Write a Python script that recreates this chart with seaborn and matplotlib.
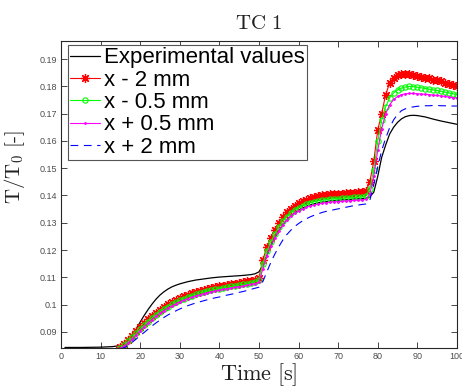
import numpy as np
import pandas as pd
import matplotlib
matplotlib.use("Agg")
import matplotlib.pyplot as plt
import seaborn as sns

# ---- data ----
t_model = list(range(15, 101))

red_xm2 = [0.0843, 0.0855, 0.0870, 0.0886, 0.0902, 0.0917, 0.0932, 0.0946, 0.0959, 0.0971,
           0.0982, 0.0992, 0.1001, 0.1009, 0.1017, 0.1024, 0.1030, 0.1036, 0.1041, 0.1046,
           0.1050, 0.1054, 0.1058, 0.1061, 0.1064, 0.1067, 0.1070, 0.1072, 0.1075, 0.1077,
           0.1080, 0.1082, 0.1085, 0.1088, 0.1091, 0.1098, 0.1165, 0.1210, 0.1244, 0.1273,
           0.1298, 0.1320, 0.1338, 0.1352, 0.1363, 0.1372, 0.1379, 0.1385, 0.1390, 0.1394,
           0.1397, 0.1400, 0.1402, 0.1404, 0.1405, 0.1406, 0.1407, 0.1408, 0.1409, 0.1410,
           0.1411, 0.1413, 0.1416, 0.1450, 0.1525, 0.1640, 0.1700, 0.1770, 0.1812, 0.1832,
           0.1842, 0.1846, 0.1847, 0.1845, 0.1842, 0.1839, 0.1836, 0.1832, 0.1829, 0.1825,
           0.1822, 0.1818, 0.1814, 0.1810, 0.1806, 0.1802]

green_xm05 = [0.0842, 0.0851, 0.0865, 0.0880, 0.0895, 0.0910, 0.0924, 0.0938, 0.0951, 0.0963,
              0.0974, 0.0984, 0.0993, 0.1001, 0.1009, 0.1016, 0.1022, 0.1028, 0.1033, 0.1038,
              0.1042, 0.1046, 0.1050, 0.1053, 0.1056, 0.1059, 0.1062, 0.1064, 0.1067, 0.1069,
              0.1072, 0.1074, 0.1077, 0.1080, 0.1083, 0.1090, 0.1150, 0.1196, 0.1230, 0.1259,
              0.1284, 0.1305, 0.1322, 0.1336, 0.1347, 0.1356, 0.1363, 0.1369, 0.1374, 0.1378,
              0.1381, 0.1383, 0.1385, 0.1387, 0.1388, 0.1389, 0.1390, 0.1391, 0.1392, 0.1393,
              0.1394, 0.1395, 0.1397, 0.1425, 0.1495, 0.1600, 0.1675, 0.1725, 0.1758, 0.1776,
              0.1787, 0.1794, 0.1798, 0.1800, 0.1799, 0.1797, 0.1795, 0.1792, 0.1790, 0.1787,
              0.1785, 0.1782, 0.1779, 0.1776, 0.1773, 0.1770]

magenta_xp05 = [0.0841, 0.0848, 0.0860, 0.0874, 0.0889, 0.0904, 0.0918, 0.0932, 0.0945, 0.0957,
                0.0968, 0.0978, 0.0987, 0.0995, 0.1003, 0.1010, 0.1016, 0.1022, 0.1027, 0.1032,
                0.1036, 0.1040, 0.1044, 0.1047, 0.1050, 0.1053, 0.1056, 0.1058, 0.1061, 0.1063,
                0.1066, 0.1068, 0.1071, 0.1074, 0.1077, 0.1082, 0.1132, 0.1180, 0.1215, 0.1245,
                0.1270, 0.1292, 0.1310, 0.1324, 0.1335, 0.1344, 0.1351, 0.1357, 0.1362, 0.1366,
                0.1369, 0.1372, 0.1374, 0.1376, 0.1377, 0.1378, 0.1379, 0.1380, 0.1381, 0.1382,
                0.1383, 0.1384, 0.1386, 0.1405, 0.1470, 0.1565, 0.1645, 0.1700, 0.1732, 0.1752,
                0.1763, 0.1770, 0.1773, 0.1774, 0.1774, 0.1773, 0.1772, 0.1771, 0.1770, 0.1768,
                0.1767, 0.1765, 0.1763, 0.1761, 0.1759, 0.1757]

blue_xp2 = [0.0838, 0.0842, 0.0851, 0.0862, 0.0874, 0.0886, 0.0898, 0.0910, 0.0922, 0.0933,
            0.0943, 0.0953, 0.0962, 0.0970, 0.0977, 0.0984, 0.0990, 0.0996, 0.1001, 0.1006,
            0.1010, 0.1014, 0.1018, 0.1022, 0.1025, 0.1028, 0.1032, 0.1035, 0.1038, 0.1041,
            0.1045, 0.1048, 0.1052, 0.1056, 0.1060, 0.1064, 0.1085, 0.1120, 0.1155, 0.1185,
            0.1212, 0.1236, 0.1256, 0.1272, 0.1286, 0.1297, 0.1307, 0.1315, 0.1322, 0.1328,
            0.1333, 0.1338, 0.1342, 0.1345, 0.1348, 0.1351, 0.1354, 0.1357, 0.1360, 0.1363,
            0.1365, 0.1367, 0.1369, 0.1382, 0.1440, 0.1505, 0.1565, 0.1610, 0.1648, 0.1677,
            0.1697, 0.1711, 0.1718, 0.1722, 0.1725, 0.1727, 0.1728, 0.1729, 0.1729, 0.1730,
            0.1730, 0.1729, 0.1729, 0.1728, 0.1728, 0.1728]

t_exp = [1, 5, 10, 13, 14, 15, 16, 17, 18, 19, 20, 21, 22, 23, 24, 25, 26, 27, 28, 29, 30,
         32, 34, 36, 38, 40, 42, 44, 46, 48, 49, 50, 51, 52, 53, 54, 55, 56, 57, 58, 60, 62,
         64, 66, 68, 70, 72, 74, 76, 77, 78, 79, 80, 81, 82, 83, 84, 85, 86, 87, 88, 89, 90,
         92, 94, 96, 98, 100]
experimental = [0.0843, 0.0843, 0.0844, 0.0846, 0.0848, 0.0851, 0.0858, 0.0870, 0.0887, 0.0910,
                0.0936, 0.0960, 0.0982, 0.1002, 0.1020, 0.1035, 0.1047, 0.1057, 0.1065, 0.1071,
                0.1076, 0.1084, 0.1090, 0.1094, 0.1098, 0.1101, 0.1103, 0.1105, 0.1107, 0.1110,
                0.1113, 0.1120, 0.1145, 0.1180, 0.1215, 0.1245, 0.1270, 0.1292, 0.1310, 0.1325,
                0.1347, 0.1361, 0.1370, 0.1376, 0.1380, 0.1383, 0.1385, 0.1387, 0.1389, 0.1390,
                0.1395, 0.1412, 0.1470, 0.1540, 0.1585, 0.1625, 0.1650, 0.1668, 0.1681, 0.1689,
                0.1693, 0.1694, 0.1693, 0.1688, 0.1680, 0.1673, 0.1667, 0.1661]

legend_labels = ["Experimental values", "x - 2 mm", "x - 0.5 mm", "x + 0.5 mm", "x + 2 mm"]
x_ticks = list(range(0, 101, 10))
y_ticks = [0.09, 0.10, 0.11, 0.12, 0.13, 0.14, 0.15, 0.16, 0.17, 0.18, 0.19]
y_tick_labels = ["0.09", "0.1", "0.11", "0.12", "0.13", "0.14", "0.15", "0.16", "0.17", "0.18", "0.19"]

# ---- style ----
sns.set_theme(style="ticks")
plt.rcParams["font.family"] = ["Liberation Sans", "DejaVu Sans"]
plt.rcParams["mathtext.fontset"] = "cm"

fig = plt.figure(figsize=(4.62, 3.87), dpi=100)
ax = fig.add_axes([0.132, 0.1008, 0.857, 0.793])

df_exp = pd.DataFrame({"t": t_exp, "v": experimental})
df_mod = pd.DataFrame({"t": t_model, "red": red_xm2, "green": green_xm05,
                       "magenta": magenta_xp05, "blue": blue_xp2})

sns.lineplot(data=df_exp, x="t", y="v", ax=ax, color="black", lw=0.9,
             label=legend_labels[0])
sns.lineplot(data=df_mod, x="t", y="red", ax=ax, color=(1, 0, 0), lw=0.8,
             marker=(8, 2, 0), markersize=6.5, markeredgewidth=0.9, markeredgecolor=(1, 0, 0),
             label=legend_labels[1])
sns.lineplot(data=df_mod, x="t", y="green", ax=ax, color=(0, 1, 0), lw=0.8,
             marker="o", markersize=3.8, markerfacecolor="none", markeredgewidth=0.8,
             markeredgecolor=(0, 1, 0), label=legend_labels[2])
sns.lineplot(data=df_mod, x="t", y="magenta", ax=ax, color=(1, 0, 1), lw=0.8,
             marker=".", markersize=2.5, markeredgecolor=(1, 0, 1),
             label=legend_labels[3])
sns.lineplot(data=df_mod, x="t", y="blue", ax=ax, color=(0, 0, 1), lw=0.8,
             dashes=False, label=legend_labels[4])
ax.lines[-1].set_dashes((7, 5))

ax.set_xlim(0, 100)
ax.set_ylim(0.0841, 0.1966)
ax.set_xticks(x_ticks)
ax.set_xticklabels([str(v) for v in x_ticks])
ax.set_yticks(y_ticks)
ax.set_yticklabels(y_tick_labels)

for s in ax.spines.values():
    s.set_visible(True)
    s.set_color("#262626")
    s.set_linewidth(0.8)
ax.tick_params(axis="both", which="both", direction="in", length=4, width=0.6,
               top=True, right=True, labelsize=6.5, labelcolor="#4d4d4d",
               color="#262626", pad=3)

ax.set_title(r"$\mathrm{TC\ 1}$", fontsize=15, pad=9, color="#222222")
ax.set_xlabel(r"$\mathrm{Time\ [s]}$", fontsize=16, color="#222222", labelpad=0)
ax.set_ylabel(r"$\mathrm{T/T_0\ [\text{-}]}$", fontsize=15, color="#222222")
ax.yaxis.set_label_coords(-0.085, 0.59)

leg = ax.legend(loc="upper left", bbox_to_anchor=(0.017, 0.987), fontsize=16,
                frameon=True, fancybox=False, framealpha=1, edgecolor="#555555",
                handlelength=1.35, handletextpad=0.2, labelspacing=0.06,
                borderpad=0.1, borderaxespad=0.0, numpoints=1)
leg.get_frame().set_linewidth(0.8)
for txt in leg.get_texts():
    txt.set_color("black")

fig.savefig("out.png", dpi=100)
